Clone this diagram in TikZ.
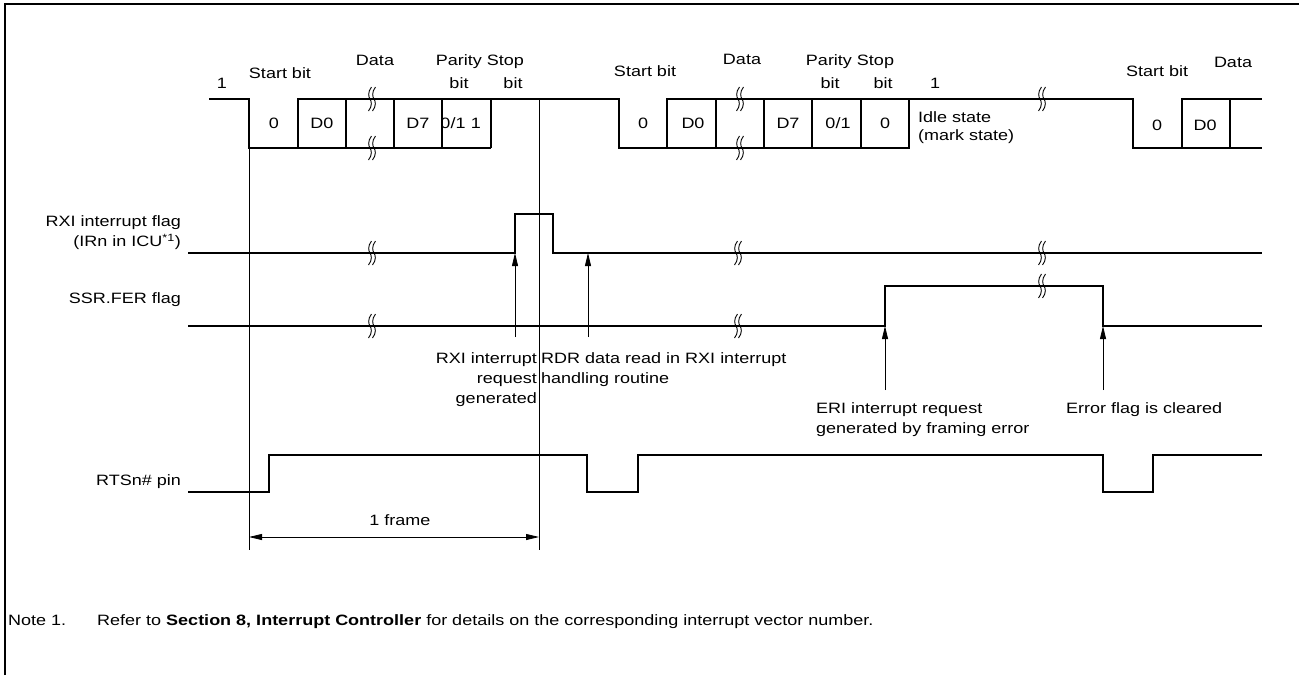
\documentclass[tikz,border=0pt]{standalone}
\usepackage{fontspec}
\setmainfont{Liberation Sans}[FakeStretch=1.2]
\usetikzlibrary{arrows.meta}
\newcommand\brkmark[2]{%
  \foreach \dx in {-2,2}{%
    \draw[brkline] ({#1+\dx+1.5},{#2-12}) .. controls ({#1+\dx-2.5},{#2-7}) and ({#1+\dx-1.5},{#2-2}) .. ({#1+\dx},{#2}) .. controls ({#1+\dx+1.5},{#2+2}) and ({#1+\dx+2.5},{#2+7}) .. ({#1+\dx-1.5},{#2+12});
  }}
\begin{document}
\begin{tikzpicture}[x=1pt,y=-1pt,
  every node/.style={inner sep=0pt, font=\fontsize{15}{18}\selectfont, text height=10.5pt, text depth=3pt},
  wave/.style={line width=1.4pt, line join=miter},
  thinline/.style={line width=0.8pt},
  brkline/.style={line width=0.9pt},
  uparr/.style={line width=0.8pt, -{Triangle[length=13pt,width=6pt]}},
  dimarr/.style={line width=0.8pt, {Triangle[length=13pt,width=6pt]}-{Triangle[length=13pt,width=6pt]}},
  lft/.style={anchor=west},
  rgt/.style={anchor=east}]
\useasboundingbox (0,0) rectangle (1299,675);
% frame
\draw[line width=1.5pt] (5,675) -- (5,4) -- (1299,4);

% ---------- serial data waveform ----------
\draw[wave] (209,99) -- (249,99) -- (249,148) -- (491,148);
\draw[wave] (298,148) -- (298,99) -- (619,99) -- (619,148) -- (909,148) -- (909,99);
\draw[wave] (667,148) -- (667,99) -- (1133,99) -- (1133,148) -- (1262,148);
\draw[wave] (1182,148) -- (1182,99) -- (1262,99);
\foreach \x in {346,394,442,491,716,764,812,861,1230}
  \draw[wave] (\x,99) -- (\x,148);

% frame 1 labels
\node (one1) at (222,85) {1};
\node (sb1) at (280,75) {Start bit};
\node (da1) at (375,62) {Data};
\node (ps1) at (480,62) {Parity Stop};
\node (pb1) at (459,85) {bit};
\node (stb1) at (513,85) {bit};
\node (z1) at (274,125) {0};
\node (d01) at (322,125) {D0};
\node (d71) at (418,125) {D7};
\node (p1) at (453,125) {0/1};
\node (s1) at (476,125) {1};

% frame 2 labels
\node (sb2) at (645,73) {Start bit};
\node (da2) at (742,61) {Data};
\node (ps2) at (850,62) {Parity Stop};
\node (pb2) at (830,85) {bit};
\node (stb2) at (883,85) {bit};
\node (one2) at (935,85) {1};
\node (z2) at (643,125) {0};
\node (d02) at (693,125) {D0};
\node (d72) at (788,125) {D7};
\node (p2) at (838,125) {0/1};
\node (s2) at (885,125) {0};
\node[lft] (idle1) at (918,119) {Idle state};
\node[lft] (idle2) at (918,137) {(mark state)};

% frame 3 labels
\node (sb3) at (1157,73) {Start bit};
\node (da3) at (1233,64) {Data};
\node (z3) at (1157,127) {0};
\node (d03) at (1205,127) {D0};

% ---------- RXI interrupt flag ----------
\node[rgt] (rxil1) at (181,223) {RXI interrupt flag};
\node[rgt] (rxil2) at (181,243) {(IRn in ICU\textsuperscript{*1})};
\draw[wave] (188,253) -- (515,253) -- (515,214) -- (553,214) -- (553,253) -- (1262,253);

% ---------- SSR.FER flag ----------
\node[rgt] (ssrl) at (181,300) {SSR.FER flag};
\draw[wave] (188,326) -- (885,326) -- (885,286) -- (1103,286) -- (1103,326) -- (1262,326);

% break marks
\brkmark{372}{99}
\brkmark{372}{148}
\brkmark{740}{99}
\brkmark{740}{148}
\brkmark{1042}{99}
\brkmark{372}{253}
\brkmark{738}{253}
\brkmark{1042}{253}
\brkmark{372}{326}
\brkmark{738}{326}
\brkmark{1042}{286}

% frame marker lines
\coordinate (m1t) at (249,148);
\coordinate (m1b) at (249,550);
\coordinate (m2t) at (539,99);
\coordinate (m2b) at (539,550);
\draw[thinline] (m1t) -- (m1b);
\draw[thinline] (m2t) -- (m2b);

% arrows
\coordinate (a1b) at (515,337); \coordinate (a1t) at (515,253);
\coordinate (a2b) at (588,337); \coordinate (a2t) at (588,253);
\coordinate (a3b) at (885,390); \coordinate (a3t) at (885,326);
\coordinate (a4b) at (1103,390); \coordinate (a4t) at (1103,326);
\draw[uparr] (a1b) -- (a1t);
\draw[uparr] (a2b) -- (a2t);
\draw[uparr] (a3b) -- (a3t);
\draw[uparr] (a4b) -- (a4t);

% annotations
\node[rgt] (rxa1) at (537,360) {RXI interrupt};
\node[rgt] (rxa2) at (537,380) {request};
\node[rgt] (rxa3) at (537,400) {generated};
\node[lft] (rdr1) at (541,360) {RDR data read in RXI interrupt};
\node[lft] (rdr2) at (541,380) {handling routine};
\node[lft] (eri1) at (816,410) {ERI interrupt request};
\node[lft] (eri2) at (816,430) {generated by framing error};
\node[lft] (efc) at (1066,410) {Error flag is cleared};

% ---------- RTSn# pin ----------
\node[rgt] (rtsl) at (181,482) {RTSn\# pin};
\draw[wave] (188,492) -- (269,492) -- (269,455) -- (587,455) -- (587,492) -- (638,492) -- (638,455) -- (1103,455) -- (1103,492) -- (1153,492) -- (1153,455) -- (1262,455);

% 1 frame
\coordinate (f1) at (249,537);
\coordinate (f2) at (539,537);
\draw[dimarr] (f1) -- (f2);
\node (frm) at (400,522) {1 frame};

% note
\node[lft] (note1) at (8,622) {Note 1.};
\node[lft] (note2) at (97,622) {Refer to \textbf{Section 8, Interrupt Controller} for details on the corresponding interrupt vector number.};
\end{tikzpicture}
\end{document}
